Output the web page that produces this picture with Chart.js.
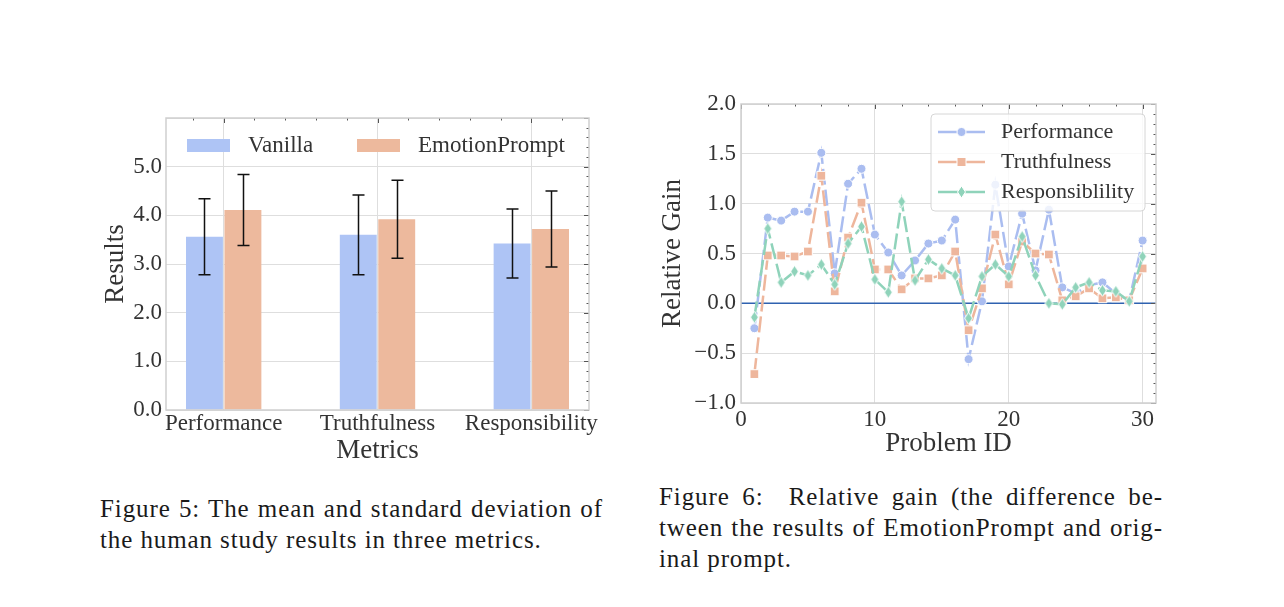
<!DOCTYPE html>
<html>
<head>
<meta charset="utf-8">
<script src="https://cdn.jsdelivr.net/npm/chart.js@4.4.0/dist/chart.umd.min.js"></script>
<style>
  body { margin: 0; background: #fff; width: 1284px; height: 607px; position: relative; overflow: hidden; }
  canvas { position: absolute; }
  #barChart { left: 90px; top: 100px; }
  #gainChart { left: 650px; top: 90px; }
  .caption { position: absolute; font-family: 'Liberation Serif', serif; font-size: 25px; letter-spacing: 0.9px; line-height: 31px; color: #1a1a1a; }
  .caption span { display: block; white-space: nowrap; }
  .caption .just { text-align: justify; text-align-last: justify; white-space: normal; }
  #cap5 { left: 100px; top: 493px; width: 503px; }
  #cap6 { left: 659px; top: 481px; width: 504px; }
</style>
</head>
<body>
<canvas id="barChart" width="530" height="380"></canvas>
<canvas id="gainChart" width="520" height="380"></canvas>

<div class="caption" id="cap5">
  <span class="just">Figure 5: The mean and standard deviation of</span>
  <span>the human study results in three metrics.</span>
</div>
<div class="caption" id="cap6">
  <span class="just">Figure 6:&nbsp; Relative gain (the difference be-</span>
  <span class="just">tween the results of EmotionPrompt and orig-</span>
  <span>inal prompt.</span>
</div>

<script>
// ---- Figure 5 data ----
const metrics = ['Performance', 'Truthfulness', 'Responsibility'];
const vanillaMean = [3.56, 3.60, 3.42];
const vanillaStd = [0.78, 0.82, 0.71];
const emotionMean = [4.11, 3.92, 3.72];
const emotionStd = [0.73, 0.80, 0.78];

// ---- Figure 6 data ----
const problemIds = [1, 2, 3, 4, 5, 6, 7, 8, 9, 10, 11, 12, 13, 14, 15, 16, 17, 18, 19, 20, 21, 22, 23, 24, 25, 26, 27, 28, 29, 30];
const performanceGain = [-0.25, 0.86, 0.83, 0.92, 0.92, 1.51, 0.30, 1.20, 1.35, 0.69, 0.51, 0.28, 0.43, 0.60, 0.63, 0.84, -0.56, 0.02, 1.19, 0.37, 0.90, 0.33, 0.94, 0.16, 0.10, 0.18, 0.21, 0.10, 0.03, 0.63];
const truthfulnessGain = [-0.71, 0.48, 0.48, 0.47, 0.52, 1.28, 0.12, 0.66, 1.01, 0.34, 0.34, 0.14, 0.25, 0.25, 0.28, 0.52, -0.27, 0.15, 0.69, 0.19, 0.62, 0.50, 0.49, 0.03, 0.07, 0.15, 0.05, 0.06, 0.03, 0.35];
const responsibilityGain = [-0.14, 0.75, 0.21, 0.32, 0.28, 0.39, 0.19, 0.60, 0.77, 0.24, 0.11, 1.02, 0.23, 0.44, 0.35, 0.28, -0.15, 0.27, 0.39, 0.27, 0.67, 0.28, 0.00, -0.01, 0.16, 0.21, 0.13, 0.12, 0.02, 0.47];

const BLUE = '#aec4f5';
const ORANGE = '#edb99d';
const LBLUE = '#aabdf0';
const LORANGE = '#eeb69c';
const LGREEN = '#8fd3ba';
const GRID = '#dedede';
const TEXT = '#333333';

Chart.defaults.font.family = "'Liberation Serif', serif";
Chart.defaults.color = TEXT;
Chart.defaults.animation = false;

const fmt = v => (v < 0 ? '\u2212' + Math.abs(v).toFixed(1) : v.toFixed(1));
const noPad = s => { s.paddingTop = 0; s.paddingBottom = 0; s.paddingLeft = 0; s.paddingRight = 0; };

// frame + inward ticks on top and right spines
const frameTicks = {
  id: 'frameTicks',
  afterDraw(chart, args, o) {
    const { ctx, chartArea: a, scales: { x, y } } = chart;
    ctx.save();
    ctx.strokeStyle = '#555';
    ctx.lineWidth = 1;
    const ny = Math.round((o.yMax - o.yMin) / o.yMinor);
    for (let i = 0; i <= ny; i++) {
      const v = o.yMin + i * o.yMinor;
      const py = Math.round(y.getPixelForValue(v)) + 0.5;
      const major = Math.abs(v / o.yMajor - Math.round(v / o.yMajor)) < 1e-6;
      ctx.beginPath();
      ctx.moveTo(a.right, py);
      ctx.lineTo(a.right - (major ? 5 : 2.5), py);
      ctx.stroke();
    }
    const nx = Math.round((o.xMax - o.xMin) / o.xMinor);
    for (let i = 0; i <= nx; i++) {
      const v = o.xMin + i * o.xMinor;
      const px = Math.round(x.getPixelForValue(v)) + 0.5;
      if (px < a.left || px > a.right) continue;
      const major = Math.abs(v / o.xMajor - Math.round(v / o.xMajor)) < 1e-6;
      ctx.beginPath();
      ctx.moveTo(px, a.top);
      ctx.lineTo(px, a.top + (major ? 5 : 2.5));
      ctx.stroke();
    }
    ctx.strokeStyle = '#cfcfcf';
    ctx.lineWidth = 1.5;
    ctx.strokeRect(a.left, a.top, a.right - a.left, a.bottom - a.top);
    ctx.restore();
  }
};

// error bars on top of the bars
const errorBars = {
  id: 'errorBars',
  afterDatasetsDraw(chart) {
    const { ctx, scales: { y } } = chart;
    const stds = [vanillaStd, emotionStd];
    ctx.save();
    ctx.strokeStyle = '#111';
    ctx.lineWidth = 1.5;
    chart.data.datasets.forEach((ds, di) => {
      chart.getDatasetMeta(di).data.forEach((bar, i) => {
        const m = ds.data[i].y;
        const hi = y.getPixelForValue(m + stds[di][i]);
        const lo = y.getPixelForValue(m - stds[di][i]);
        const cx = Math.round(bar.x) + 0.5;
        ctx.beginPath();
        ctx.moveTo(cx, hi); ctx.lineTo(cx, lo);
        ctx.moveTo(cx - 6, hi); ctx.lineTo(cx + 6, hi);
        ctx.moveTo(cx - 6, lo); ctx.lineTo(cx + 6, lo);
        ctx.stroke();
      });
    });
    ctx.restore();
  }
};

const barLegend = {
  id: 'barLegend',
  afterDraw(chart) {
    const { ctx, chartArea: a } = chart;
    ctx.save();
    ctx.font = "23px 'Liberation Serif'";
    ctx.fillStyle = TEXT;
    ctx.textBaseline = 'middle';
    const items = [[BLUE, 'Vanilla', 21], [ORANGE, 'EmotionPrompt', 191]];
    items.forEach(([c, label, dx]) => {
      ctx.fillStyle = c;
      ctx.fillRect(a.left + dx, a.top + 21, 43, 13);
      ctx.fillStyle = TEXT;
      ctx.fillText(label, a.left + dx + 61, a.top + 28);
    });
    ctx.restore();
  }
};

new Chart(document.getElementById('barChart'), {
  type: 'bar',
  data: {
    datasets: [
      { label: 'Vanilla', data: metrics.map((m, i) => ({ x: i, y: vanillaMean[i] })), backgroundColor: BLUE },
      { label: 'EmotionPrompt', data: metrics.map((m, i) => ({ x: i, y: emotionMean[i] })), backgroundColor: ORANGE }
    ]
  },
  options: {
    responsive: false,
    categoryPercentage: 0.5,
    barPercentage: 0.96,
    layout: { padding: { top: 18, right: 31, left: 0, bottom: 0 } },
    plugins: {
      legend: { display: false },
      tooltip: { enabled: false },
      frameTicks: { yMin: 0, yMax: 6, yMinor: 0.2, yMajor: 1, xMin: -0.4, xMax: 2.4, xMinor: 0.2, xMajor: 1 }
    },
    scales: {
      x: {
        type: 'linear', min: -0.375, max: 2.375, offset: false,
        afterBuildTicks: s => { s.ticks = metrics.map((m, i) => ({ value: i })); },
        afterFit: s => { s.height = 70; noPad(s); },
        ticks: { callback: v => metrics[v], font: { size: 23 }, padding: 0, maxRotation: 0, autoSkip: false },
        grid: { color: GRID, drawTicks: false, offset: false },
        border: { display: false },
        title: { display: true, text: 'Metrics', font: { size: 27 }, padding: { top: 0, bottom: 13 } }
      },
      y: {
        min: 0, max: 6,
        afterFit: s => { s.width = 76; noPad(s); },
        ticks: { stepSize: 1, callback: v => (v <= 5 ? v.toFixed(1) : ''), font: { size: 23 }, padding: 4 },
        grid: { color: GRID, drawTicks: false },
        border: { display: false },
        title: { display: true, text: 'Results', font: { size: 27 }, padding: { top: 10, bottom: 0 } }
      }
    }
  },
  plugins: [errorBars, barLegend, frameTicks]
});

// thin diamond marker
function makeDiamond(color) {
  const c = document.createElement('canvas');
  c.width = 11; c.height = 14;
  const g = c.getContext('2d');
  g.beginPath();
  g.moveTo(5.5, 1); g.lineTo(9.5, 7); g.lineTo(5.5, 13); g.lineTo(1.5, 7); g.closePath();
  g.fillStyle = color; g.fill();
  g.strokeStyle = '#fff'; g.lineWidth = 1; g.stroke();
  return c;
}
const diamond = makeDiamond(LGREEN);

const zeroLine = {
  id: 'zeroLine',
  beforeDatasetsDraw(chart) {
    const { ctx, chartArea: a, scales: { y } } = chart;
    const py = y.getPixelForValue(0);
    ctx.save();
    ctx.strokeStyle = '#2f62b0';
    ctx.lineWidth = 1.5;
    ctx.beginPath(); ctx.moveTo(a.left, py); ctx.lineTo(a.right, py); ctx.stroke();
    ctx.restore();
  }
};

const DASH = [16, 5];

const gainLegend = {
  id: 'gainLegend',
  afterDraw(chart) {
    const { ctx, chartArea: a } = chart;
    const x0 = a.left + 190, y0 = a.top + 10, w = 214, h = 97;
    ctx.save();
    ctx.fillStyle = 'rgba(255,255,255,0.8)';
    ctx.strokeStyle = '#d6d6d6';
    ctx.lineWidth = 1;
    ctx.beginPath();
    ctx.roundRect(x0, y0, w, h, 4);
    ctx.fill(); ctx.stroke();
    const rows = [
      ['Performance', LBLUE, 'circle'],
      ['Truthfulness', LORANGE, 'rect'],
      ['Responsiblility', LGREEN, 'diamond']
    ];
    ctx.font = "22px 'Liberation Serif'";
    ctx.textBaseline = 'middle';
    rows.forEach(([label, c, shape], i) => {
      const cy = y0 + 18 + i * 30;
      const lx = x0 + 7;
      ctx.strokeStyle = c; ctx.lineWidth = 2.5;
      ctx.beginPath(); ctx.moveTo(lx, cy); ctx.lineTo(lx + 47, cy); ctx.stroke();
      const mx = lx + 23.5;
      ctx.fillStyle = c; ctx.strokeStyle = '#fff'; ctx.lineWidth = 1;
      if (shape === 'circle') {
        ctx.beginPath(); ctx.arc(mx, cy, 4.5, 0, Math.PI * 2); ctx.fill(); ctx.stroke();
      } else if (shape === 'rect') {
        ctx.fillRect(mx - 4.5, cy - 4.5, 9, 9); ctx.strokeRect(mx - 4.5, cy - 4.5, 9, 9);
      } else {
        ctx.drawImage(diamond, mx - 5.5, cy - 7);
      }
      ctx.fillStyle = TEXT;
      ctx.fillText(label, x0 + 70, cy);
    });
    ctx.restore();
  }
};

const lineStyle = (label, values, color, style, radius, order) => ({
  label,
  data: problemIds.map((id, i) => ({ x: id, y: values[i] })),
  borderColor: color,
  backgroundColor: color,
  borderWidth: 2.5,
  borderDash: DASH,
  pointStyle: style,
  pointRadius: radius,
  pointBackgroundColor: color,
  pointBorderColor: '#fff',
  pointBorderWidth: 1,
  tension: 0,
  order
});

new Chart(document.getElementById('gainChart'), {
  type: 'line',
  data: {
    datasets: [
      lineStyle('Performance', performanceGain, LBLUE, 'circle', 4.5, 3),
      lineStyle('Truthfulness', truthfulnessGain, LORANGE, 'rect', 6.2, 2),
      lineStyle('Responsiblility', responsibilityGain, LGREEN, diamond, 6, 1)
    ]
  },
  options: {
    responsive: false,
    layout: { padding: { top: 14, right: 14, left: 0, bottom: 0 } },
    plugins: {
      legend: { display: false },
      tooltip: { enabled: false },
      frameTicks: { yMin: -1, yMax: 2, yMinor: 0.1, yMajor: 0.5, xMin: 0, xMax: 30, xMinor: 2, xMajor: 10 }
    },
    scales: {
      x: {
        type: 'linear', min: 0, max: 31,
        afterBuildTicks: s => { s.ticks = [0, 10, 20, 30].map(v => ({ value: v })); },
        afterFit: s => { s.height = 67; noPad(s); },
        ticks: { font: { size: 23 }, padding: 3, maxRotation: 0 },
        grid: { color: GRID, drawTicks: false },
        border: { display: false },
        title: { display: true, text: 'Problem ID', font: { size: 27 }, padding: { top: 0, bottom: 10 } }
      },
      y: {
        min: -1, max: 2,
        afterFit: s => { s.width = 91; noPad(s); },
        ticks: { stepSize: 0.5, callback: v => fmt(v), font: { size: 23 }, padding: 5 },
        grid: { color: GRID, drawTicks: false },
        border: { display: false },
        title: { display: true, text: 'Relative Gain', font: { size: 27 }, padding: { top: 7, bottom: 0 } }
      }
    }
  },
  plugins: [zeroLine, gainLegend, frameTicks]
});
</script>
</body>
</html>
